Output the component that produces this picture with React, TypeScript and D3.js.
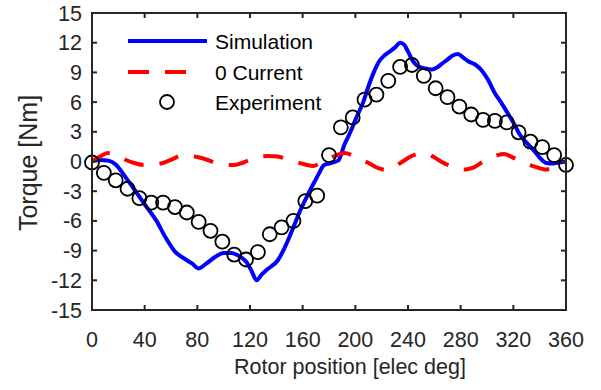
import React from "react";
import * as d3 from "d3";

// ---- Data ----
const expAngle = [0, 9, 18, 27, 36, 45, 54, 63, 72, 81, 90, 99, 108, 117, 126, 135, 144, 153, 162, 171, 180, 189, 198, 207, 216, 225, 234, 243, 252, 261, 270, 279, 288, 297, 306, 315, 324, 333, 342, 351, 360];
const expTorque = [-0.1, -1.15, -1.9, -2.75, -3.7, -4.15, -4.15, -4.6, -5.15, -6.1, -7.0, -8.1, -9.4, -9.9, -9.15, -7.35, -6.65, -6.0, -4.0, -3.45, 0.65, 3.45, 4.45, 6.25, 6.75, 8.15, 9.55, 9.75, 8.65, 7.4, 6.5, 5.55, 4.75, 4.2, 4.1, 3.95, 2.95, 2.0, 1.45, 0.65, -0.35];

const simAngle = [0, 6, 12, 18, 25, 32, 41, 49, 56, 63, 70, 76, 81, 87, 94, 100, 106, 111, 117, 121, 125, 129, 133, 141, 146, 150, 154, 158, 163, 168, 172, 176, 180, 184, 187, 192, 196, 200, 206, 210, 214, 218, 222, 226, 230, 234, 237, 240, 244, 248, 253, 258, 262, 266, 270, 274, 278, 282, 286, 291, 296, 301, 306, 311, 317, 321, 325, 330, 335, 340, 345, 350, 355, 360];
const simTorque = [0.1, 0.15, 0.1, -0.3, -1.5, -2.8, -4.5, -6.0, -7.7, -9.1, -9.8, -10.3, -10.8, -10.3, -9.6, -9.25, -9.25, -9.5, -10.1, -11.0, -12.0, -11.4, -10.9, -10.0, -8.8, -7.6, -6.3, -5.0, -3.6, -2.3, -1.3, -0.4, -0.2, -0.05, 0.1, 1.8, 2.9, 4.2, 6.0, 7.6, 9.0, 10.1, 10.7, 11.1, 11.5, 12.0, 11.8, 11.1, 10.1, 9.6, 9.4, 9.3, 9.5, 9.9, 10.3, 10.7, 10.85, 10.5, 10.1, 9.8, 9.2, 8.2, 6.9, 5.9, 4.6, 3.7, 2.7, 1.9, 1.2, 0.4, -0.15, -0.2, -0.1, 0];

const cogAngle = [0, 6, 12, 18, 25, 32, 40, 47, 55, 62, 68, 74, 80, 88, 95, 102, 108, 115, 122, 128, 134, 141, 148, 155, 162, 168, 174, 180, 186, 192, 198, 205, 212, 218, 224, 230, 236, 242, 248, 253, 259, 265, 272, 278, 284, 290, 296, 302, 308, 313, 319, 325, 332, 338, 344, 350, 355, 360];
const cogTorque = [0, 0.5, 0.85, 0.7, 0.2, -0.15, -0.35, -0.3, -0.1, 0.3, 0.6, 0.6, 0.45, 0.15, -0.2, -0.35, -0.35, -0.1, 0.3, 0.5, 0.55, 0.5, 0.25, -0.05, -0.3, -0.45, -0.1, 0.3, 0.65, 0.85, 0.6, 0.2, -0.3, -0.7, -0.85, -0.5, 0, 0.5, 0.8, 0.85, 0.5, 0, -0.45, -0.75, -0.8, -0.6, -0.1, 0.35, 0.65, 0.75, 0.45, 0.05, -0.35, -0.6, -0.8, -0.75, -0.4, 0];

const xTicks = [0, 40, 80, 120, 160, 200, 240, 280, 320, 360];
const yTicks = [-15, -12, -9, -6, -3, 0, 3, 6, 9, 12, 15];
const legendLabels = ["Simulation", "0 Current", "Experiment"];

const W = 601, H = 390;
const L = 92, R = 566, T = 13, B = 310;
const AX = "#262626";
const FONT = "'Liberation Sans', Arial, sans-serif";

export default function App() {
  const x = d3.scaleLinear().domain([0, 360]).range([L, R]);
  const y = d3.scaleLinear().domain([-15, 15]).range([B, T]);
  const line = d3.line<[number, number]>().x(d => x(d[0])).y(d => y(d[1])).curve(d3.curveMonotoneX);
  const simPath = line(simAngle.map((a, i) => [a, simTorque[i]]) as [number, number][]) || "";
  const cogPath = line(cogAngle.map((a, i) => [a, cogTorque[i]]) as [number, number][]) || "";
  const tl = 5;

  return (
    <svg width={W} height={H} style={{ position: "absolute", left: 0, top: 0, background: "#fff" }} fontFamily={FONT}>
      <rect x={0} y={0} width={W} height={H} fill="#fff" />
      {/* data */}
      <path d={simPath} fill="none" stroke="#0000ff" strokeWidth={4} strokeLinejoin="round" />
      <path d={cogPath} fill="none" stroke="#ff0000" strokeWidth={4} strokeDasharray="20 16" />
      {expAngle.map((a, i) => (
        <circle key={i} cx={x(a)} cy={y(expTorque[i])} r={7} fill="none" stroke="#000" strokeWidth={1.8} />
      ))}
      {/* axes box */}
      <rect x={L} y={T} width={R - L} height={B - T} fill="none" stroke={AX} strokeWidth={2} />
      {xTicks.map(t => (
        <g key={"x" + t}>
          <line x1={x(t)} x2={x(t)} y1={B} y2={B - tl} stroke={AX} strokeWidth={2} />
          <line x1={x(t)} x2={x(t)} y1={T} y2={T + tl} stroke={AX} strokeWidth={2} />
          <text x={x(t)} y={347} textAnchor="middle" fontSize={21.5} fill={AX}>{t}</text>
        </g>
      ))}
      {yTicks.map(t => (
        <g key={"y" + t}>
          <line x1={L} x2={L + tl} y1={y(t)} y2={y(t)} stroke={AX} strokeWidth={2} />
          <line x1={R} x2={R - tl} y1={y(t)} y2={y(t)} stroke={AX} strokeWidth={2} />
          <text x={82} y={y(t) + 7.5} textAnchor="end" fontSize={21.5} fill={AX}>{t}</text>
        </g>
      ))}
      <text x={350} y={374} textAnchor="middle" fontSize={21.5} fill={AX}>Rotor position [elec deg]</text>
      <text transform={`translate(37,${163}) rotate(-90)`} textAnchor="middle" fontSize={25} fill={AX}>Torque [Nm]</text>
      {/* legend */}
      <line x1={128} x2={207} y1={41} y2={41} stroke="#0000ff" strokeWidth={4} />
      <line x1={128} x2={187} y1={72} y2={72} stroke="#ff0000" strokeWidth={4} strokeDasharray="21 16" />
      <circle cx={167} cy={102} r={7} fill="none" stroke="#000" strokeWidth={1.8} />
      <text x={215} y={49} fontSize={21} fill="#000">{legendLabels[0]}</text>
      <text x={215} y={80} fontSize={21} fill="#000">{legendLabels[1]}</text>
      <text x={215} y={110} fontSize={21} fill="#000">{legendLabels[2]}</text>
    </svg>
  );
}
